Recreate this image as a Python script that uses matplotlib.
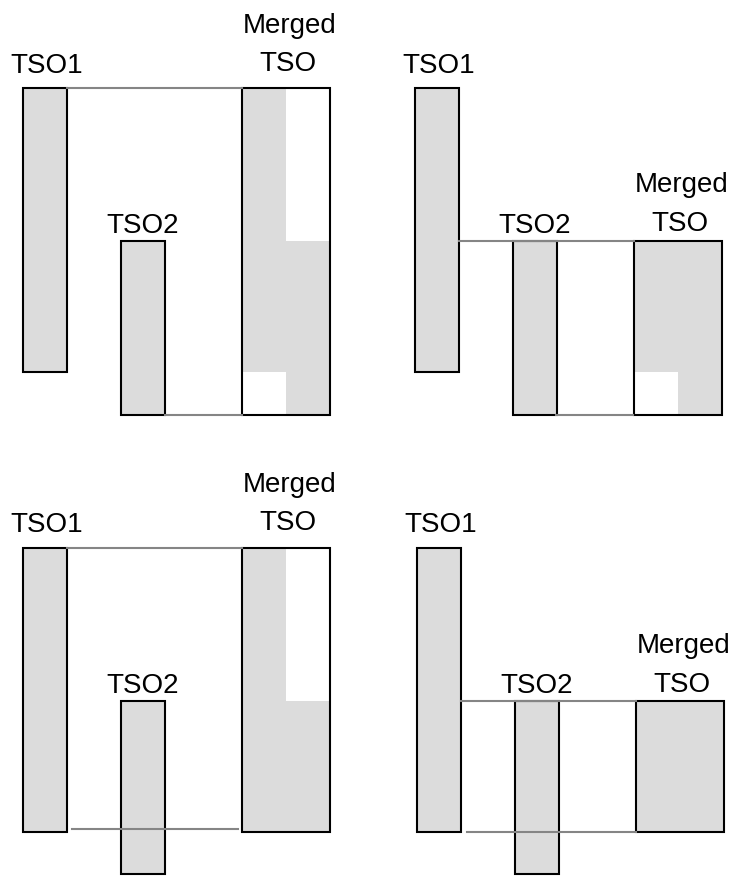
import matplotlib.pyplot as plt
from matplotlib.patches import Rectangle

plt.rcParams['font.family'] = ['Liberation Sans', 'DejaVu Sans']

# four cases (pixel-ish units, y grows downward)
panel_x = [0, 392, 0, 394]
tso1_span = [(88, 372), (88, 372), (548, 832), (548, 832)]
tso2_span = [(241, 415), (241, 415), (701, 874), (701, 874)]
merged_span = [(88, 415), (241, 415), (548, 832), (701, 832)]
bottom_line = [(165, 242), (164, 241), (72, 238), (73, 242)]
bottom_line_y = [415, 415, 829, 832]

# label baselines
tso1_label_y = [73, 73, 532, 532]
tso2_label_y = [233, 233, 693, 693]
merged_label_y = [33, 192, 492, 653]
tso_label_y = [71, 231, 530, 692]

fill = '#dcdcdc'
line_gray = '#858585'

# column x positions inside a panel
tso1_x = (23, 67)
tso2_x = (121, 165)
merged_x = (242, 330)

fig = plt.figure(figsize=(7.35, 8.76), dpi=100)
ax = fig.add_axes([0, 0, 1, 1])
ax.set_xlim(0, 735)
ax.set_ylim(876, 0)
ax.axis('off')


def bar(x0, x1, y0, y1):
	ax.add_patch(Rectangle((x0, y0), x1 - x0, y1 - y0, facecolor=fill,
		edgecolor='black', lw=1.5, zorder=2))


for i in range(4):
	ox = panel_x[i]
	a1, b1 = tso1_span[i]
	a2, b2 = tso2_span[i]
	am, bm = merged_span[i]

	bar(ox + tso1_x[0], ox + tso1_x[1], a1, b1)
	bar(ox + tso2_x[0], ox + tso2_x[1], a2, b2)

	# merged: left half from TSO1, right half from TSO2
	mx0, mx1 = ox + merged_x[0], ox + merged_x[1]
	mid = (mx0 + mx1) / 2
	lt, lb = max(a1, am), min(b1, bm)
	rt, rb = max(a2, am), min(b2, bm)
	if lb > lt:
		ax.add_patch(Rectangle((mx0, lt), mid - mx0, lb - lt, facecolor=fill, lw=0, zorder=2))
	if rb > rt:
		ax.add_patch(Rectangle((mid, rt), mx1 - mid, rb - rt, facecolor=fill, lw=0, zorder=2))
	ax.add_patch(Rectangle((mx0, am), mx1 - mx0, bm - am, facecolor='none',
		edgecolor='black', lw=1.5, zorder=3))

	# guide lines
	ax.plot([ox + tso1_x[1], mx0], [am, am], color=line_gray, lw=1.5, zorder=4)
	bx0, bx1 = bottom_line[i]
	ax.plot([ox + bx0, ox + bx1], [bottom_line_y[i]] * 2, color=line_gray, lw=1.5, zorder=4)

	fs = 20
	ax.text(ox + sum(tso1_x) / 2 + 2, tso1_label_y[i], 'TSO1', ha='center', va='baseline', fontsize=fs)
	ax.text(ox + sum(tso2_x) / 2, tso2_label_y[i], 'TSO2', ha='center', va='baseline', fontsize=fs)
	ax.text(mid + 4, merged_label_y[i], 'Merged', ha='center', va='baseline', fontsize=fs)
	ax.text(mid + 2, tso_label_y[i], 'TSO', ha='center', va='baseline', fontsize=fs)

fig.savefig('out.png', dpi=100)
